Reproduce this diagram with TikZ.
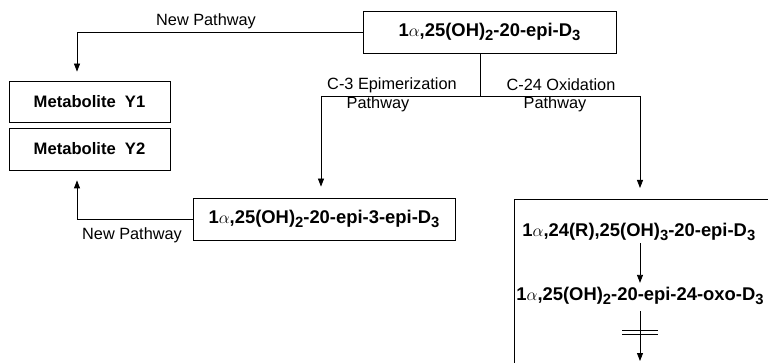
\documentclass[tikz,border=0pt]{standalone}
\usepackage{fontspec}
\setmainfont{Liberation Sans}
\usetikzlibrary{arrows.meta}
\newcommand{\lowdigit}[1]{\raisebox{-4pt}{\fontsize{14.8}{16}\selectfont #1}}
\newcommand{\alp}{$\alpha$}
\begin{document}
\begin{tikzpicture}[x=1pt, y=-1pt, line width=0.8pt, >={Triangle[length=8pt,width=6pt]},
  box/.style={draw, inner sep=0pt, minimum height=42pt, font=\fontsize{18.4}{20}\selectfont\bfseries},
  chem/.style={inner sep=0pt, font=\fontsize{18.4}{20}\selectfont\bfseries},
  lbl/.style={inner sep=0pt, font=\fontsize{16.3}{19}\selectfont}]
  \clip (0,0) rectangle (768,363);

  % compounds
  \node[box, minimum width=253pt] (epi) at (489.5,32) {1\alp,25(OH)\lowdigit{2}-20-epi-D\lowdigit{3}};
  \node[box, minimum width=161pt, minimum height=41pt, font=\fontsize{16.6}{19}\selectfont\bfseries] (metY1) at (89.5,101.5) {Metabolite\ \ Y1};
  \node[box, minimum width=161pt, font=\fontsize{16.6}{19}\selectfont\bfseries] (metY2) at (89.5,149) {Metabolite\ \ Y2};
  \node[box, minimum width=262pt] (epiThree) at (324,219) {1\alp,25(OH)\lowdigit{2}-20-epi-3-epi-D\lowdigit{3}};
  \node[draw, minimum width=300pt, minimum height=200pt, anchor=north west] (oxBox) at (514,199) {};
  \node[chem, anchor=west] (triHyd) at (522,232) {1\alp,24(R),25(OH)\lowdigit{3}-20-epi-D\lowdigit{3}};
  \node[chem, anchor=west] (oxo) at (516,296) {1\alp,25(OH)\lowdigit{2}-20-epi-24-oxo-D\lowdigit{3}};

  % fork below the parent compound
  \coordinate (fork) at (480,96);
  \coordinate (forkL) at (321,96);
  \coordinate (forkR) at (640,96);
  \coordinate (oxEnd) at (640,361);
  \draw (epi.south -| fork) -- (fork);
  \draw (forkL) -- (forkR);
  \draw[->, shorten >=11pt] (forkL) -- (forkL |- epiThree.north);
  \draw[->, shorten >=11pt] (forkR) -- (forkR |- oxBox.north);
  \node[lbl] (c3) at (392,85) {C-3 Epimerization};
  \node[lbl] (c3p) at (378,104) {Pathway};
  \node[lbl] (c24) at (561,85) {C-24 Oxidation};
  \node[lbl] (c24p) at (555,104) {Pathway};

  % new pathways
  \draw[->, shorten >=9pt] (epi.west) -| ([xshift=-12.5pt]metY1.north);
  \node[lbl] (newTop) at (206,21) {New Pathway};
  \draw[->, shorten >=10pt] (epiThree.west) -| ([xshift=-12.5pt]metY2.south);
  \node[lbl] (newBot) at (132,235) {New Pathway};

  % C-24 oxidation steps
  \draw[->, shorten <=2pt, shorten >=4pt] (triHyd.south -| forkR) -- (oxo.north -| forkR);
  \draw[->, shorten <=6pt] (oxo.south -| forkR) -- (oxEnd);
  \draw (622,330) -- (658,330);
  \draw (622,334) -- (658,334);
\end{tikzpicture}
\end{document}
